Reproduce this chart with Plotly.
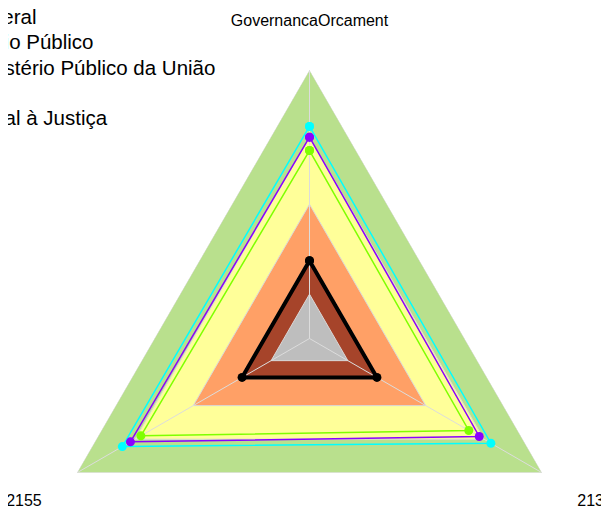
import plotly.graph_objects as go

# eixos do radar
categorias = ["GovernancaOrcament", "2135", "2155"]

# faixas de referencia (limite externo de cada faixa)
faixas_limites = [100, 75, 50, 30, 16.5]
faixas_cores = ["#b9e08d", "#ffff99", "#ffa066", "#a6442a", "#bebebe"]

# series (valores na ordem das categorias)
series_nomes = ["Federal", "Ofício Público", "Ministério Público da União", "Fiscal à Justiça"]
federal = [70, 68.5, 72.5]
oficio_publico = [79, 78, 80.5]
mpu = [75, 73, 77]
fiscal_justica = [29, 29, 29]
series_valores = [federal, oficio_publico, mpu, fiscal_justica]
series_cores = ["#7fff00", "#00ffff", "#8b00ff", "#000000"]

# linhas da legenda (a 4a e a das faixas)
legenda_nomes = ["Federal", "Ofício Público", "Ministério Público da União", "Ref", "Fiscal à Justiça"]

fig = go.Figure()

theta_fechado = categorias + categorias[:1]

for lim, cor in zip(faixas_limites, faixas_cores):
    fig.add_trace(go.Scatterpolar(
        r=[lim] * len(theta_fechado),
        theta=theta_fechado,
        mode="lines",
        fill="toself",
        fillcolor=cor,
        line=dict(color="#d9d9d9", width=1),
        name="Ref",
        hoverinfo="skip",
    ))

# raios do radar
r_raios, t_raios = [], []
for c in categorias:
    r_raios += [0, faixas_limites[0], None]
    t_raios += [c, c, None]
fig.add_trace(go.Scatterpolar(
    r=r_raios, theta=t_raios, mode="lines",
    line=dict(color="#dcdcdc", width=1),
    hoverinfo="skip",
))

for nome, vals, cor in zip(series_nomes, series_valores, series_cores):
    preto = cor == "#000000"
    fig.add_trace(go.Scatterpolar(
        r=vals + vals[:1],
        theta=theta_fechado,
        mode="lines+markers",
        name=nome,
        line=dict(color=cor, width=4 if preto else 1.5),
        marker=dict(color=cor, size=9),
        cliponaxis=False,
    ))

# legenda como texto, cortada na borda esquerda
for i, nome in enumerate(legenda_nomes):
    fig.add_annotation(
        text=nome, xref="paper", yref="paper", x=0, y=1,
        xanchor="left", yanchor="middle", align="left",
        xshift=-76, yshift=62 - (8.6 + 25.25 * i),
        showarrow=False, font=dict(size=20.5, color="black"),
    )

fig.update_layout(
    width=609,
    height=599,
    margin=dict(l=33, r=39, t=62, b=0, autoexpand=False),
    paper_bgcolor="white",
    showlegend=False,
    font=dict(family="Liberation Sans, Arial, sans-serif", color="black"),
    polar=dict(
        bgcolor="white",
        gridshape="linear",
        radialaxis=dict(visible=False, range=[0, 100], showgrid=False),
        angularaxis=dict(
            type="category",
            categoryorder="array",
            categoryarray=categorias,
            rotation=90,
            direction="clockwise",
            showgrid=False,
            showline=False,
            ticks="outside",
            ticklen=37,
            tickcolor="rgba(0,0,0,0)",
            tickfont=dict(size=16, color="black"),
        ),
    ),
)

fig.write_html("out.html")
